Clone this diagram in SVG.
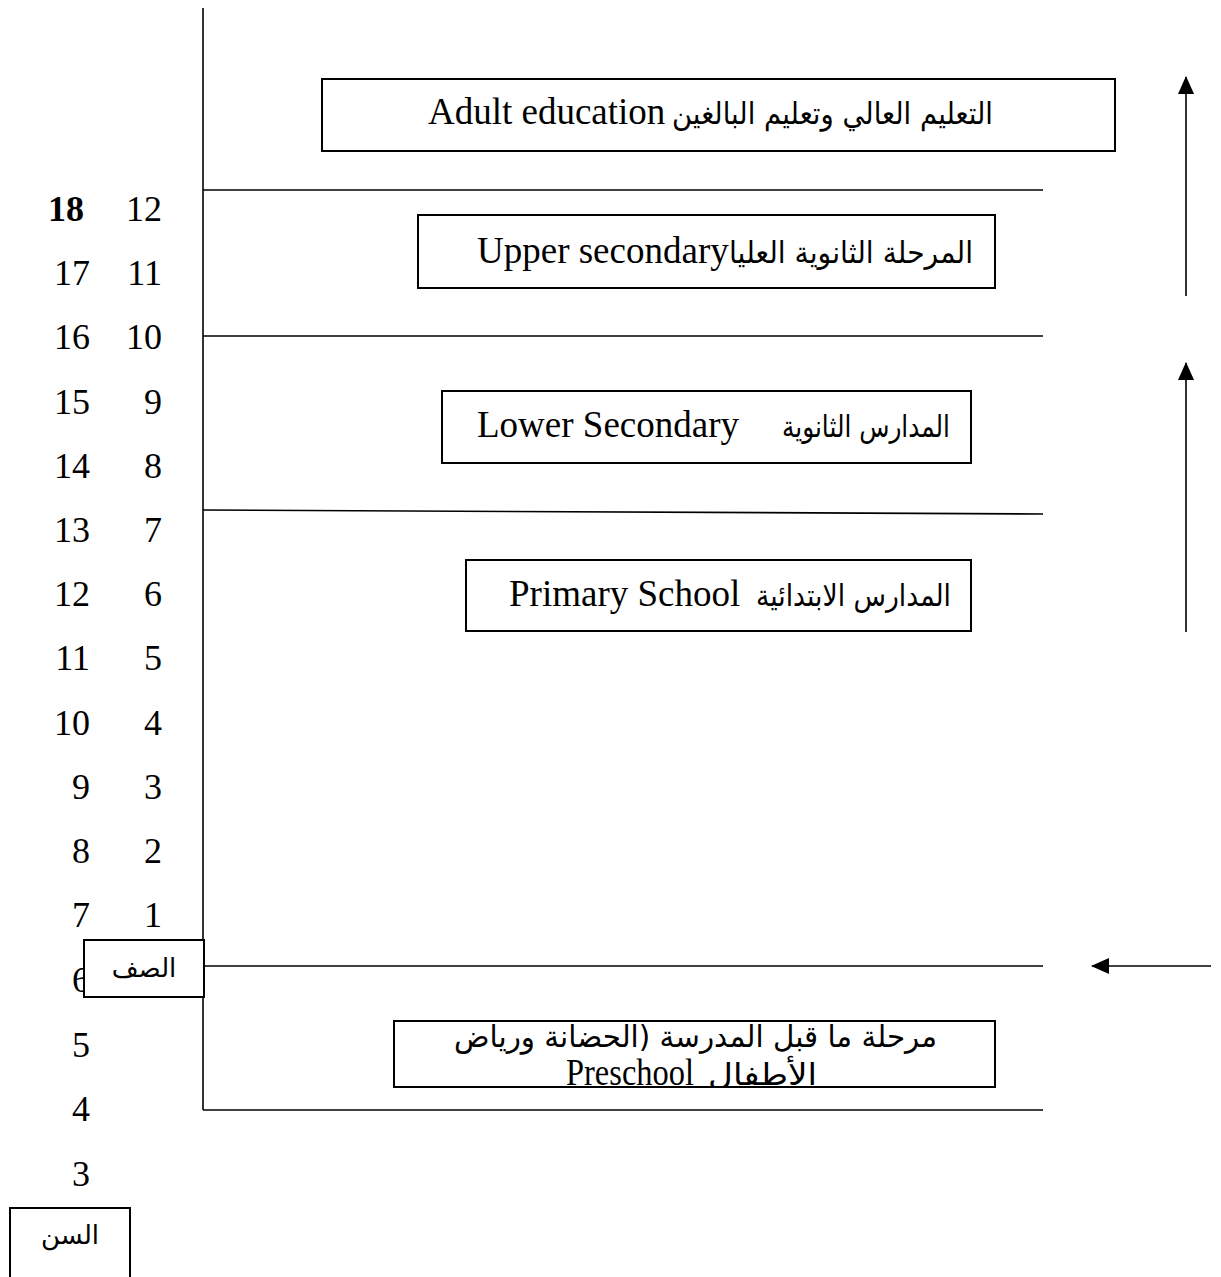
<svg xmlns="http://www.w3.org/2000/svg" width="1221" height="1277" viewBox="0 0 1221 1277">
<style>
.ln{stroke:#000;stroke-width:1.6;fill:none}
.box{fill:#fff;stroke:#000;stroke-width:2}
.en{font-family:"Liberation Serif","Times New Roman",serif;font-size:37px;fill:#000}
.ar{font-family:"DejaVu Sans","Liberation Sans",sans-serif;font-size:30px;fill:#000;text-anchor:end}
.num{font-family:"Liberation Serif","Times New Roman",serif;font-size:36px;fill:#000;text-anchor:end}
.lab{font-family:"DejaVu Sans","Liberation Sans",sans-serif;font-size:26px;fill:#000;text-anchor:middle}
</style>
<defs>
<marker id="ah" markerUnits="userSpaceOnUse" markerWidth="18" markerHeight="18" viewBox="0 0 18 18" refX="17" refY="9" orient="auto">
<path d="M0,1 L18,9 L0,17 Z" fill="#000"/>
</marker>
<clipPath id="pcl"><rect x="394" y="1021" width="601" height="66"/></clipPath>
</defs>

<g id="connectors">
<line class="ln" x1="203" y1="8" x2="203" y2="1110"/>
<line class="ln" x1="203" y1="190" x2="1043" y2="190"/>
<line class="ln" x1="203" y1="336" x2="1043" y2="336"/>
<line class="ln" x1="203" y1="510" x2="1043" y2="514"/>
<line class="ln" x1="203" y1="966" x2="1043" y2="966"/>
<line class="ln" x1="203" y1="1110" x2="1043" y2="1110"/>
<line class="ln" x1="1186" y1="296" x2="1186" y2="77" marker-end="url(#ah)"/>
<line class="ln" x1="1186" y1="632" x2="1186" y2="363" marker-end="url(#ah)"/>
<line class="ln" x1="1211" y1="966" x2="1092" y2="966" marker-end="url(#ah)"/>
</g>

<g id="ages">
<text class="num" x="84" y="221" font-weight="bold">18</text>
<text class="num" x="90" y="285">17</text>
<text class="num" x="90" y="349">16</text>
<text class="num" x="90" y="414">15</text>
<text class="num" x="90" y="478">14</text>
<text class="num" x="90" y="542">13</text>
<text class="num" x="90" y="606">12</text>
<text class="num" x="90" y="670">11</text>
<text class="num" x="90" y="735">10</text>
<text class="num" x="90" y="799">9</text>
<text class="num" x="90" y="863">8</text>
<text class="num" x="90" y="927">7</text>
<text class="num" x="90" y="992">6</text>
<text class="num" x="90" y="1057">5</text>
<text class="num" x="90" y="1121">4</text>
<text class="num" x="90" y="1186">3</text>
</g>
<g id="grades">
<text class="num" x="162" y="221">12</text>
<text class="num" x="162" y="285">11</text>
<text class="num" x="162" y="349">10</text>
<text class="num" x="162" y="414">9</text>
<text class="num" x="162" y="478">8</text>
<text class="num" x="162" y="542">7</text>
<text class="num" x="162" y="606">6</text>
<text class="num" x="162" y="670">5</text>
<text class="num" x="162" y="735">4</text>
<text class="num" x="162" y="799">3</text>
<text class="num" x="162" y="863">2</text>
<text class="num" x="162" y="927">1</text>
</g>

<g id="grade-label">
<rect class="box" x="84" y="940" width="120" height="57"/>
<text class="lab" x="144" y="977">الصف</text>
</g>
<g id="age-label">
<rect class="box" x="10" y="1208" width="120" height="75"/>
<text class="lab" x="70" y="1244">السن</text>
</g>

<g id="adult">
<rect class="box" x="322" y="79" width="793" height="72"/>
<text class="en" x="428" y="124">Adult education</text>
<text class="ar" x="993" y="124" textLength="321" lengthAdjust="spacingAndGlyphs">التعليم العالي وتعليم البالغين</text>
</g>
<g id="upper">
<rect class="box" x="418" y="215" width="577" height="73"/>
<text class="en" x="477" y="263">Upper secondary</text>
<text class="ar" x="973" y="263" textLength="244" lengthAdjust="spacingAndGlyphs">المرحلة الثانوية العليا</text>
</g>
<g id="lower">
<rect class="box" x="442" y="391" width="529" height="72"/>
<text class="en" x="477" y="437">Lower Secondary</text>
<text class="ar" x="950" y="437" textLength="168" lengthAdjust="spacingAndGlyphs">المدارس الثانوية</text>
</g>
<g id="primary">
<rect class="box" x="466" y="560" width="505" height="71"/>
<text class="en" x="509" y="606">Primary School</text>
<text class="ar" x="951" y="606" textLength="195" lengthAdjust="spacingAndGlyphs">المدارس الابتدائية</text>
</g>
<g id="preschool">
<rect class="box" x="394" y="1021" width="601" height="66"/>
<g clip-path="url(#pcl)">
<text class="ar" x="937" y="1047" font-size="27" textLength="483" lengthAdjust="spacingAndGlyphs">مرحلة ما قبل المدرسة (الحضانة ورياض</text>
<text class="en" x="566" y="1085" font-size="31" textLength="128" lengthAdjust="spacingAndGlyphs">Preschool</text>
<text class="ar" x="817" y="1085" font-size="27" textLength="109" lengthAdjust="spacingAndGlyphs">الأطفال</text>
</g>
</g>
</svg>
